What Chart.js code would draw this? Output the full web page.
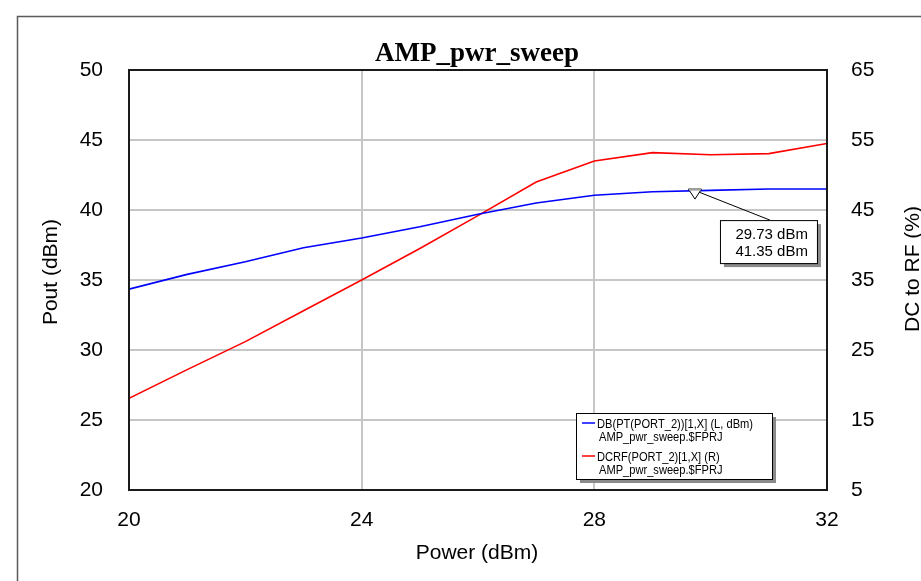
<!DOCTYPE html>
<html lang="en">
<head>
    <meta charset="UTF-8">
    <title>AMP_pwr_sweep</title>
    <style>
        body {
            margin: 0;
            padding: 0;
            background-color: #ffffff;
        }
        #wrap {
            width: 921px;
            height: 581px;
        }
    </style>
    <script src="https://cdn.jsdelivr.net/npm/chart.js"></script>
</head>
<body>
    <div id="wrap">
        <canvas id="chartCanvas" width="921" height="581"></canvas>
    </div>
    <script>
        // swept input power (dBm)
        const powerIn = [20, 21, 22, 23, 24, 25, 26, 27, 28, 29, 30, 31, 32];
        // output power, left axis (dBm)
        const poutDbm = [34.35, 35.4, 36.3, 37.3, 38.0, 38.8, 39.7, 40.5, 41.05, 41.3, 41.4, 41.5, 41.5];
        // DC to RF efficiency, right axis (%)
        const dcrfPct = [18.1, 22.2, 26.2, 30.6, 35.0, 39.5, 44.2, 49.0, 52.0, 53.2, 52.9, 53.05, 54.5];

        const xTicks = [20, 24, 28, 32];
        const leftTicks = [20, 25, 30, 35, 40, 45, 50];
        const rightTicks = [5, 15, 25, 35, 45, 55, 65];

        const markerX = 29.73;
        const markerY = 41.35;
        const markerLines = ['29.73 dBm', '41.35 dBm'];

        const legendItems = [
            { color: '#0000ff', lines: ['DB(PT(PORT_2))[1,X] (L, dBm)', 'AMP_pwr_sweep.$FPRJ'] },
            { color: '#ff0000', lines: ['DCRF(PORT_2)[1,X] (R)', 'AMP_pwr_sweep.$FPRJ'] }
        ];

        const FONT = '"Liberation Sans", Arial, sans-serif';

        function gridColor(min, max) {
            return (c) => (c.tick && (c.tick.value === min || c.tick.value === max)) ? 'rgba(0,0,0,0)' : '#c6c6c6';
        }

        // page frame, title, axis titles, plot border, marker and legend
        const decorations = {
            id: 'decorations',
            beforeDraw(chart) {
                const ctx = chart.ctx;
                ctx.save();
                ctx.fillStyle = '#ffffff';
                ctx.fillRect(0, 0, chart.width, chart.height);
                ctx.strokeStyle = '#5a5a5a';
                ctx.lineWidth = 1.5;
                ctx.strokeRect(17.5, 16.5, 2000, 2000);
                ctx.restore();
            },
            afterDatasetsDraw(chart) {
                const ctx = chart.ctx;
                const a = chart.chartArea;
                const xs = chart.scales.x;
                const ys = chart.scales.y;
                ctx.save();

                // plot border
                ctx.strokeStyle = '#1a1a1a';
                ctx.lineWidth = 2;
                ctx.strokeRect(a.left, a.top, a.right - a.left, a.bottom - a.top);

                // title
                ctx.fillStyle = '#000';
                ctx.textAlign = 'center';
                ctx.textBaseline = 'alphabetic';
                ctx.font = 'bold 27px "Liberation Serif", "Times New Roman", serif';
                ctx.fillText('AMP_pwr_sweep', 477, 61);

                // axis titles
                ctx.font = '21px ' + FONT;
                ctx.textBaseline = 'middle';
                ctx.fillText('Power (dBm)', 477, 553);
                ctx.save();
                ctx.translate(51, 272);
                ctx.rotate(-Math.PI / 2);
                ctx.fillText('Pout (dBm)', 0, 0);
                ctx.restore();
                ctx.save();
                ctx.translate(913, 269);
                ctx.rotate(-Math.PI / 2);
                ctx.fillText('DC to RF (%)', 0, 0);
                ctx.restore();

                // marker
                const mx = xs.getPixelForValue(markerX);
                const my = ys.getPixelForValue(markerY) - 2;
                ctx.lineWidth = 1;
                ctx.strokeStyle = '#000';
                const bx = mx + 25, by = my + 31, bw = 97, bh = 43;
                ctx.beginPath();
                ctx.moveTo(mx + 4, my + 3);
                ctx.lineTo(bx + 50, by);
                ctx.stroke();
                ctx.beginPath();
                ctx.moveTo(mx - 6.5, my);
                ctx.lineTo(mx + 6.5, my);
                ctx.lineTo(mx, my + 10);
                ctx.closePath();
                ctx.fillStyle = '#ffffff';
                ctx.fill();
                ctx.stroke();
                ctx.fillStyle = '#a0a0a0';
                ctx.fillRect(mx - 6, my - 0.5, 12, 2);

                ctx.fillStyle = '#8a8a8a';
                ctx.fillRect(bx + 4, by + 4, bw, bh);
                ctx.fillStyle = '#ffffff';
                ctx.fillRect(bx, by, bw, bh);
                ctx.strokeRect(bx + 0.5, by + 0.5, bw, bh);
                ctx.fillStyle = '#000';
                ctx.font = '15px ' + FONT;
                ctx.textAlign = 'right';
                ctx.textBaseline = 'alphabetic';
                ctx.fillText(markerLines[0], bx + bw - 9, by + 19);
                ctx.fillText(markerLines[1], bx + bw - 9, by + 36);

                // legend
                const lx = 576, ly = 413, lw = 196, lh = 66;
                ctx.fillStyle = '#8a8a8a';
                ctx.fillRect(lx + 4, ly + 4, lw, lh);
                ctx.fillStyle = '#ffffff';
                ctx.fillRect(lx, ly, lw, lh);
                ctx.strokeStyle = '#000';
                ctx.strokeRect(lx + 0.5, ly + 0.5, lw, lh);
                ctx.font = '13.5px ' + FONT;
                ctx.textAlign = 'left';
                const sx = 156 / ctx.measureText(legendItems[0].lines[0]).width;
                legendItems.forEach((it, i) => {
                    const top = ly + 10 + i * 33;
                    ctx.strokeStyle = it.color;
                    ctx.lineWidth = 1.5;
                    ctx.beginPath();
                    ctx.moveTo(lx + 6, top);
                    ctx.lineTo(lx + 19, top);
                    ctx.stroke();
                    ctx.fillStyle = '#000';
                    it.lines.forEach((t, j) => {
                        ctx.save();
                        ctx.translate(lx + 21 + j * 2, top + 5 + j * 13);
                        ctx.scale(sx, 1);
                        ctx.fillText(t, 0, 0);
                        ctx.restore();
                    });
                });

                ctx.restore();
            }
        };

        const ctx = document.getElementById('chartCanvas').getContext('2d');
        new Chart(ctx, {
            type: 'line',
            data: {
                labels: powerIn,
                datasets: [
                    {
                        label: 'DB(PT(PORT_2))[1,X] (L, dBm)',
                        data: powerIn.map((x, i) => ({ x: x, y: poutDbm[i] })),
                        borderColor: '#0000ff',
                        borderWidth: 1.6,
                        pointRadius: 0,
                        tension: 0,
                        yAxisID: 'y'
                    },
                    {
                        label: 'DCRF(PORT_2)[1,X] (R)',
                        data: powerIn.map((x, i) => ({ x: x, y: dcrfPct[i] })),
                        borderColor: '#ff0000',
                        borderWidth: 1.6,
                        pointRadius: 0,
                        tension: 0,
                        yAxisID: 'y1'
                    }
                ]
            },
            options: {
                responsive: false,
                animation: false,
                layout: { padding: { top: 70, left: 0, right: 0, bottom: 0 } },
                plugins: {
                    legend: { display: false },
                    tooltip: { enabled: false }
                },
                scales: {
                    x: {
                        type: 'linear',
                        min: 20,
                        max: 32,
                        afterBuildTicks: (s) => { s.ticks = xTicks.map(v => ({ value: v })); },
                        afterFit: (s) => { s.height = 91; },
                        grid: { color: gridColor(20, 32), lineWidth: 2, drawTicks: false },
                        border: { display: false },
                        ticks: { color: '#000', font: { family: FONT, size: 21 }, padding: 18, maxRotation: 0 }
                    },
                    y: {
                        position: 'left',
                        min: 20,
                        max: 50,
                        afterBuildTicks: (s) => { s.ticks = leftTicks.map(v => ({ value: v })); },
                        afterFit: (s) => { s.width = 129; },
                        grid: { color: gridColor(20, 50), lineWidth: 2, drawTicks: false },
                        border: { display: false },
                        ticks: { color: '#000', font: { family: FONT, size: 21 }, padding: 26 }
                    },
                    y1: {
                        position: 'right',
                        min: 5,
                        max: 65,
                        afterBuildTicks: (s) => { s.ticks = rightTicks.map(v => ({ value: v })); },
                        afterFit: (s) => { s.width = 94; },
                        grid: { drawOnChartArea: false, drawTicks: false },
                        border: { display: false },
                        ticks: { color: '#000', font: { family: FONT, size: 21 }, padding: 24 }
                    }
                }
            },
            plugins: [decorations]
        });
    </script>
</body>
</html>
